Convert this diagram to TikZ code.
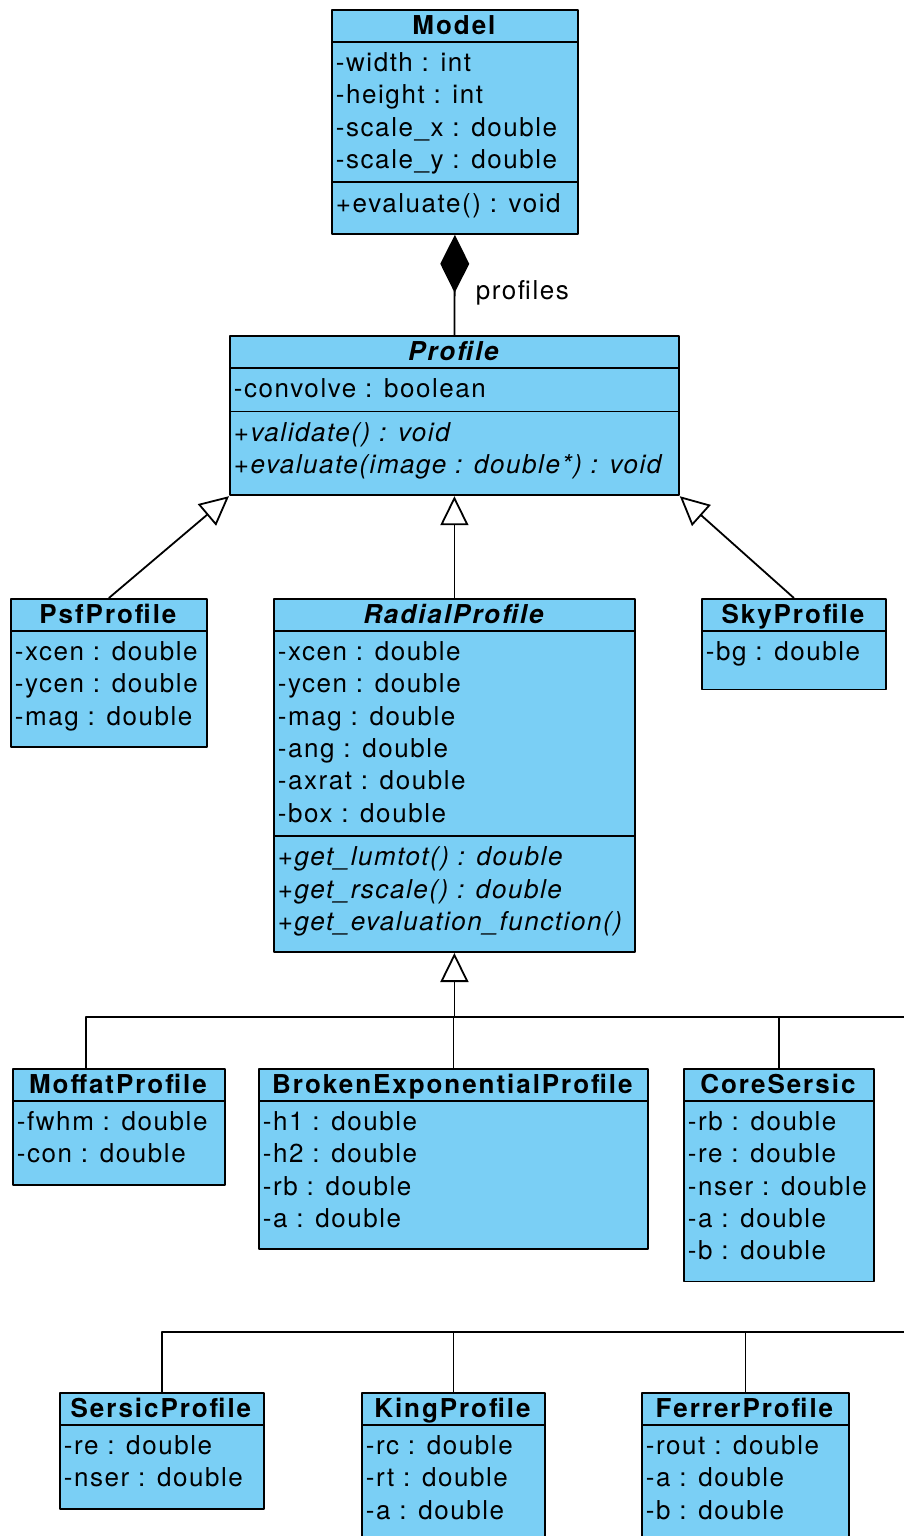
\documentclass[tikz,border=0pt]{standalone}
\usepackage{fontspec}
\setmainfont{TeX Gyre Heros}[LetterSpace=6,BoldFeatures={LetterSpace=7.5},BoldItalicFeatures={LetterSpace=7.5}]
\usetikzlibrary{shapes.multipart,arrows.meta}
\definecolor{classblue}{RGB}{122,207,245}
% invisible struts that fix the row heights
\newcommand\tops{\rule{0pt}{23.7pt}}
\newcommand\bots{\rule[-7.6pt]{0pt}{7.6pt}}
\newcommand\botl[1][15.5pt]{\rule[-#1]{0pt}{#1}}
\newcommand\titles[1]{\rule[-1.2pt]{0pt}{19.4pt}\smash{#1}}
\tikzset{
  umlclass/.style={draw, fill=classblue, line width=1.8pt, anchor=north west,
    rectangle split, rectangle split parts=#1,
    rectangle split part align={center,left,left},
    inner xsep=4pt, inner ysep=5.3pt, align=left,
    font=\fontsize{26}{32.3}\selectfont},
  umlclass/.default=3,
  extends/.style={line width=1.8pt, -{Triangle[open,length=29pt,width=28pt]}},
}
\begin{document}
\begin{tikzpicture}[x=1pt, y=-1pt, line join=round]
  \clip (0,0) rectangle (904,1536);
  \fill[white] (0,0) rectangle (904,1536);

  \node[umlclass, minimum width=246pt] (model) at (331,9)
    {\titles{\textbf{Model}}
     \nodepart{two}\tops -width : int\\ -height : int\\ -scale\_x : double\\ -scale\_y : double\bots
     \nodepart{three}\tops +evaluate() : void\botl};

  \node[umlclass, minimum width=449pt] (profile) at (229,335)
    {\titles{\textbf{\textit{Profile}}}
     \nodepart{two}\tops -convolve : boolean\bots
     \nodepart{three}\tops\textit{+validate() : void}\\ \textit{+evaluate(image : double*) : void}\botl};

  \node[umlclass=2, minimum width=196pt] (psf) at (10,598)
    {\titles{\textbf{PsfProfile}}
     \nodepart{two}\tops -xcen : double\\ -ycen : double\\ -mag : double\botl};

  \node[umlclass, minimum width=361pt] (radial) at (273,598)
    {\titles{\textbf{\textit{RadialProfile}}}
     \nodepart{two}\tops -xcen : double\\ -ycen : double\\ -mag : double\\ -ang : double\\ -axrat : double\\ -box : double\bots
     \nodepart{three}\tops\textit{+get\_lumtot() : double}\\ \textit{+get\_rscale() : double}\\ \textit{+get\_evaluation\_function()}\botl};

  \node[umlclass=2, minimum width=184pt] (sky) at (701,598)
    {\titles{\textbf{SkyProfile}}
     \nodepart{two}\tops -bg : double\botl[22.7pt]};

  \node[umlclass=2, minimum width=212pt] (moffat) at (12,1068)
    {\titles{\textbf{MoffatProfile}}
     \nodepart{two}\tops -fwhm : double\\ -con : double\botl};

  \node[umlclass=2, minimum width=389pt] (broken) at (258,1068)
    {\titles{\textbf{BrokenExponentialProfile}}
     \nodepart{two}\tops -h1 : double\\ -h2 : double\\ -rb : double\\ -a : double\botl};

  \node[umlclass=2, minimum width=190pt] (core) at (683,1068)
    {\titles{\textbf{CoreSersic}}
     \nodepart{two}\tops -rb : double\\ -re : double\\ -nser : double\\ -a : double\\ -b : double\botl};

  \node[umlclass=2, minimum width=204pt] (sersic) at (59,1392)
    {\titles{\textbf{SersicProfile}}
     \nodepart{two}\tops -re : double\\ -nser : double\botl};

  \node[umlclass=2, minimum width=183pt] (king) at (361,1392)
    {\titles{\textbf{KingProfile}}
     \nodepart{two}\tops -rc : double\\ -rt : double\\ -a : double\botl};

  \node[umlclass=2, minimum width=207pt] (ferrer) at (641,1392)
    {\titles{\textbf{FerrerProfile}}
     \nodepart{two}\tops -rout : double\\ -a : double\\ -b : double\botl};

  % composition
  \draw[line width=1.8pt, {Diamond[length=58pt,width=29pt]}-] (model.south) --
    node[pos=0.575, anchor=west, xshift=17pt, font=\fontsize{26}{32.3}\selectfont] (proflabel) {profiles}
    (profile.north);

  % inheritance
  \draw[extends] (psf.north) -- (profile.south west);
  \draw[extends] (radial.north) -- (profile.south);
  \draw[extends] (sky.north) -- (profile.south east);

  \coordinate (busAend) at (904,1017);
  \coordinate (busBend) at (904,1332);
  \draw[extends] (radial.south |- busAend) -- (radial.south);
  \draw[line width=1.8pt] ([xshift=74pt]moffat.north west) |- (busAend);
  \draw[line width=1.8pt] (broken.north) |- (busAend);
  \draw[line width=1.8pt] (core.north) |- (busAend);

  \draw[line width=1.8pt] (sersic.north) |- (busBend);
  \draw[line width=1.8pt] (king.north) |- (busBend);
  \draw[line width=1.8pt] (ferrer.north) |- (busBend);
\end{tikzpicture}
\end{document}
